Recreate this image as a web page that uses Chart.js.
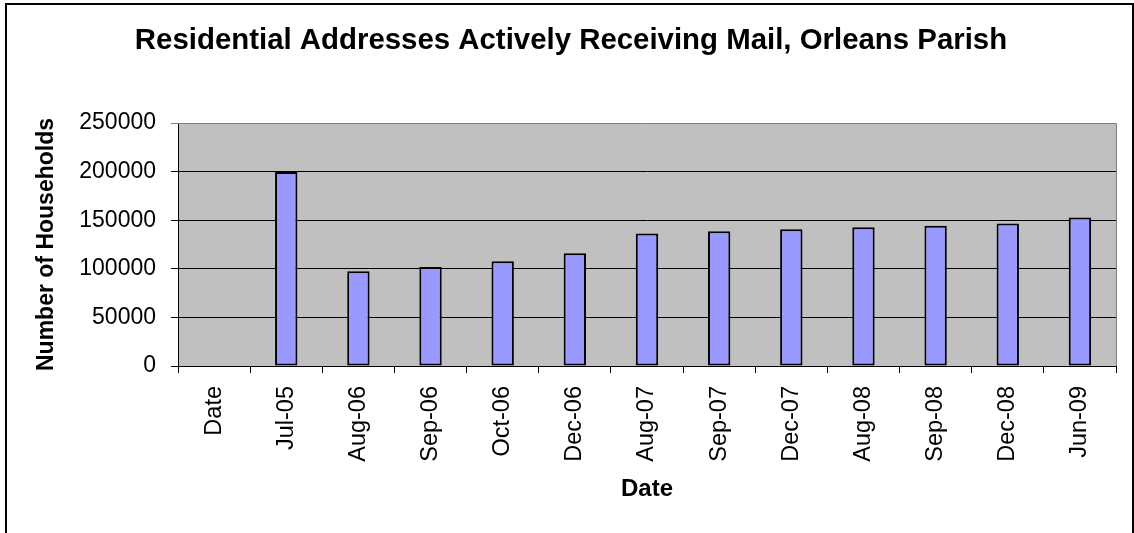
<!DOCTYPE html>
<html>
<head>
<meta charset="utf-8">
<script src="https://cdn.jsdelivr.net/npm/chart.js@4"></script>
<style>
  html, body { margin: 0; padding: 0; background: #fff; overflow: hidden; }
  #wrap { width: 1134px; height: 533px; position: relative; }
</style>
</head>
<body>
<div id="wrap"><canvas id="mailChart" width="1134" height="533"></canvas></div>
<script>
const chartTitle = "Residential Addresses Actively Receiving Mail, Orleans Parish";
const dates = ["Date", "Jul-05", "Aug-06", "Sep-06", "Oct-06", "Dec-06", "Aug-07",
               "Sep-07", "Dec-07", "Aug-08", "Sep-08", "Dec-08", "Jun-09"];
const households = [null, 199600, 97400, 101900, 107700, 115900, 136200,
                     138600, 140600, 142700, 144400, 146500, 152700];
const yTicks = [0, 50000, 100000, 150000, 200000, 250000];

const FONT = "'Liberation Sans', Arial, sans-serif";

// grey plot background, outer frame and heading
const frame = {
    id: "frame",
    beforeDraw(chart) {
        const { ctx, chartArea: a } = chart;
        ctx.save();
        ctx.fillStyle = "#c0c0c0";
        ctx.fillRect(a.left, a.top, a.right - a.left, a.bottom - a.top);
        ctx.restore();
    },
    afterDraw(chart) {
        const { ctx, chartArea: a } = chart;
        ctx.save();
        ctx.strokeStyle = "#808080";
        ctx.lineWidth = 1;
        ctx.beginPath();
        ctx.moveTo(a.left, a.top + 0.5);
        ctx.lineTo(a.right + 0.5, a.top + 0.5);
        ctx.lineTo(a.right + 0.5, a.bottom);
        ctx.stroke();

        ctx.strokeStyle = "#000";
        ctx.lineWidth = 2;
        ctx.strokeRect(6, 4, 1127, 600);

        ctx.fillStyle = "#000";
        ctx.font = "bold 29.4px " + FONT;
        ctx.textAlign = "center";
        ctx.textBaseline = "middle";
        ctx.fillText(chartTitle, 571, 41);
        ctx.restore();
    }
};

new Chart(document.getElementById("mailChart").getContext("2d"), {
    type: "bar",
    data: {
        labels: dates,
        datasets: [{
            data: households,
            backgroundColor: "#9999ff",
            borderColor: "#000",
            borderWidth: 2,
            borderSkipped: false,
            barPercentage: 0.31,
            categoryPercentage: 1
        }]
    },
    options: {
        responsive: false,
        animation: false,
        layout: { padding: { top: 123, right: 18, bottom: 0, left: 0 } },
        plugins: {
            legend: { display: false },
            title: { display: false },
            tooltip: { enabled: false }
        },
        scales: {
            x: {
                afterFit(scale) { scale.height = 167; },
                border: { color: "#000", width: 1 },
                grid: { offset: true, drawOnChartArea: false, tickLength: 7, color: "#000" },
                ticks: {
                    autoSkip: false,
                    minRotation: 90,
                    maxRotation: 90,
                    padding: 13,
                    color: "#000",
                    font: { family: FONT, size: 23.5 }
                },
                title: {
                    display: true,
                    text: "Date",
                    color: "#000",
                    padding: { top: 0, bottom: 29 },
                    font: { family: FONT, size: 24, weight: "bold" }
                }
            },
            y: {
                min: 0,
                max: 250000,
                afterFit(scale) { scale.width = 178; },
                afterBuildTicks(scale) { scale.ticks = yTicks.map(v => ({ value: v })); },
                border: { color: "#000", width: 1 },
                grid: {
                    tickLength: 7,
                    color: (c) => (c.tick && c.tick.value === 250000) ? "#808080" : "#000"
                },
                ticks: {
                    padding: 15,
                    color: "#000",
                    font: { family: FONT, size: 23 },
                    callback: (v) => String(v)
                },
                title: {
                    display: true,
                    text: "Number of Households",
                    color: "#000",
                    padding: { top: 33, bottom: 0 },
                    font: { family: FONT, size: 23, weight: "bold" }
                }
            }
        }
    },
    plugins: [frame]
});
</script>
</body>
</html>
